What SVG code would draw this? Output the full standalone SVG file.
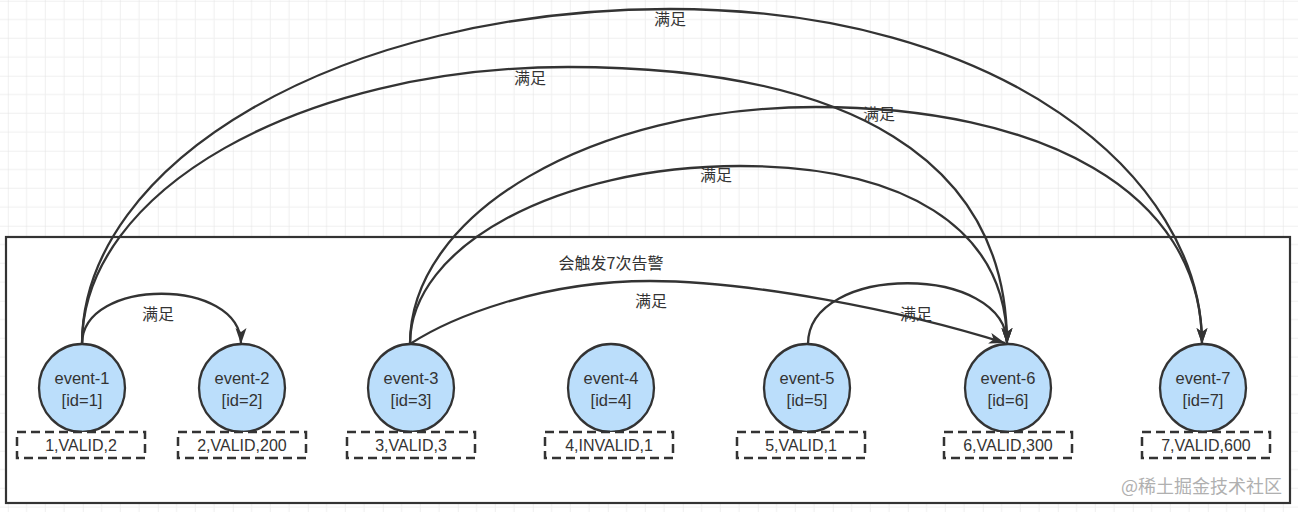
<svg xmlns="http://www.w3.org/2000/svg" width="1298" height="512" viewBox="0 0 1298 512">
  <style>
    .node ellipse { fill: #bbdefb; stroke: #333333; stroke-width: 2.3; }
    .node rect { fill: #ffffff; stroke: #333333; stroke-width: 2.5; stroke-dasharray: 9 5; }
    .t { font-family: "Liberation Sans", "Noto Sans CJK SC", sans-serif; font-size: 16.5px; fill: #333333; text-anchor: middle; }
    .b { font-family: "Liberation Sans", "Noto Sans CJK SC", sans-serif; font-size: 16px; fill: #333333; text-anchor: middle; }
    .lbl { font-family: "Noto Sans CJK SC", "Liberation Sans", sans-serif; font-size: 16px; fill: #333333; text-anchor: middle; }
    .edge { fill: none; stroke: #333333; stroke-width: 2.3; marker-end: url(#arr); }
  </style>
  <defs>
    <pattern id="grid" patternUnits="userSpaceOnUse" x="7.8" y="0.75" width="75" height="75">
      <path d="M18.75,0 V75 M37.5,0 V75 M56.25,0 V75 M0,18.75 H75 M0,37.5 H75 M0,56.25 H75" stroke="#efefef" stroke-width="1" fill="none"/>
      <path d="M0,0 V75 M0,0 H75" stroke="#e2e2e2" stroke-width="1" fill="none"/>
    </pattern>
    <marker id="arr" markerWidth="17" markerHeight="12" refX="16" refY="5.5" orient="auto" markerUnits="userSpaceOnUse">
      <path d="M0,0 L16,5.5 L0,11 L4,5.5 Z" fill="#333333"/>
    </marker>
  </defs>

  <rect x="0" y="0" width="1298" height="512" fill="#ffffff"/>
  <rect x="0" y="0" width="1298" height="512" fill="url(#grid)"/>

  <g id="container">
    <rect x="6" y="237" width="1284" height="266" fill="#ffffff" stroke="#333333" stroke-width="2.2"/>
    <text class="lbl" x="611" y="269">会触发7次告警</text>
  </g>

  <g id="connectors">
    <path class="edge" d="M82,344 C82,277 241,277 241,344"/>
    <path class="edge" d="M82,344 C82,162 340,9 670,9 C1000,9 1202,175 1202,344"/>
    <path class="edge" d="M82,344 C82,191 300,67 568,67 C850,67 1007,160 1007,344"/>
    <path class="edge" d="M410,344 C410,213 592,107 816,107 C1040,107 1202,190 1202,344"/>
    <path class="edge" d="M410,344 C410,246 558,166 740,166 C900,166 1007,225 1007,344"/>
    <path class="edge" d="M410,344 C450,318 540,281 650,281 C750,281 900,310 1005,343"/>
    <path class="edge" d="M808,344 C808,263 1007,263 1007,344"/>
    <text class="lbl" x="670" y="25">满足</text>
    <text class="lbl" x="530" y="84">满足</text>
    <text class="lbl" x="879" y="120">满足</text>
    <text class="lbl" x="716" y="181">满足</text>
    <text class="lbl" x="158" y="320">满足</text>
    <text class="lbl" x="651" y="307">满足</text>
    <text class="lbl" x="916" y="320">满足</text>
  </g>

  <g id="event-1" class="node">
    <ellipse cx="82" cy="388" rx="43" ry="44"/>
    <text class="t" x="82" y="384">event-1</text>
    <text class="t" x="82" y="406">[id=1]</text>
    <rect x="17" y="432" width="128" height="26"/>
    <text class="b" x="81" y="451">1,VALID,2</text>
  </g>
  <g id="event-2" class="node">
    <ellipse cx="242" cy="388" rx="43" ry="44"/>
    <text class="t" x="242" y="384">event-2</text>
    <text class="t" x="242" y="406">[id=2]</text>
    <rect x="178" y="432" width="128" height="26"/>
    <text class="b" x="242" y="451">2,VALID,200</text>
  </g>
  <g id="event-3" class="node">
    <ellipse cx="411" cy="388" rx="43" ry="44"/>
    <text class="t" x="411" y="384">event-3</text>
    <text class="t" x="411" y="406">[id=3]</text>
    <rect x="347" y="432" width="128" height="26"/>
    <text class="b" x="411" y="451">3,VALID,3</text>
  </g>
  <g id="event-4" class="node">
    <ellipse cx="611" cy="388" rx="43" ry="44"/>
    <text class="t" x="611" y="384">event-4</text>
    <text class="t" x="611" y="406">[id=4]</text>
    <rect x="545" y="432" width="128" height="26"/>
    <text class="b" x="609" y="451">4,INVALID,1</text>
  </g>
  <g id="event-5" class="node">
    <ellipse cx="807" cy="388" rx="43" ry="44"/>
    <text class="t" x="807" y="384">event-5</text>
    <text class="t" x="807" y="406">[id=5]</text>
    <rect x="737" y="432" width="128" height="26"/>
    <text class="b" x="801" y="451">5,VALID,1</text>
  </g>
  <g id="event-6" class="node">
    <ellipse cx="1008" cy="388" rx="43" ry="44"/>
    <text class="t" x="1008" y="384">event-6</text>
    <text class="t" x="1008" y="406">[id=6]</text>
    <rect x="944" y="432" width="128" height="26"/>
    <text class="b" x="1008" y="451">6,VALID,300</text>
  </g>
  <g id="event-7" class="node">
    <ellipse cx="1203" cy="388" rx="43" ry="44"/>
    <text class="t" x="1203" y="384">event-7</text>
    <text class="t" x="1203" y="406">[id=7]</text>
    <rect x="1142" y="432" width="128" height="26"/>
    <text class="b" x="1206" y="451">7,VALID,600</text>
  </g>

  <text x="1282" y="493" font-family="Noto Sans CJK SC, Liberation Sans, sans-serif" font-size="18" fill="#b0b0b0" text-anchor="end">@稀土掘金技术社区</text>
</svg>
